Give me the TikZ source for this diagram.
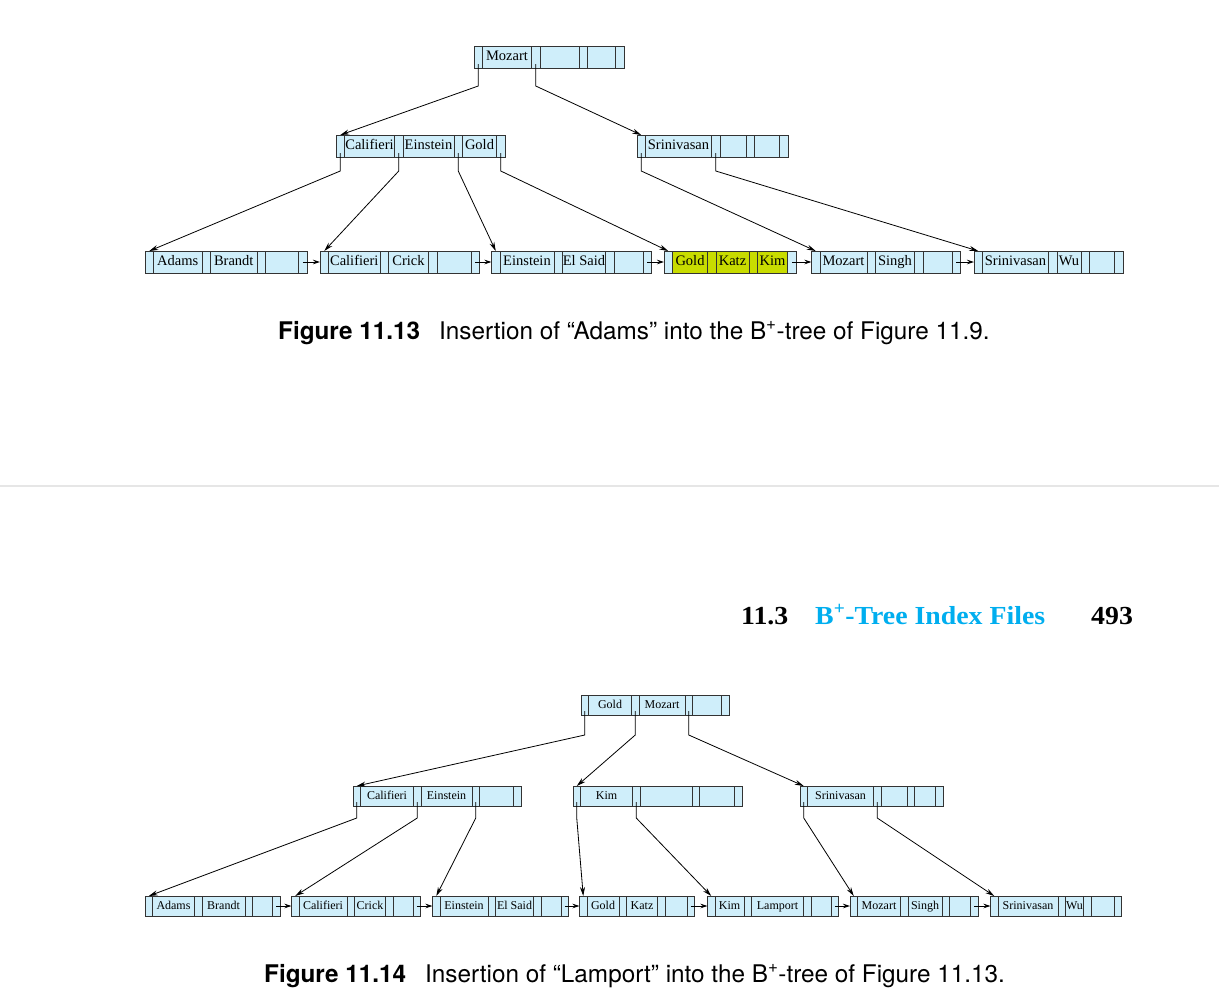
\documentclass[tikz,border=0pt]{standalone}
\usepackage{fontspec}
\setmainfont{Liberation Serif}
\newfontfamily\capfont{TeX Gyre Heros}
\newfontfamily\headfont[FakeStretch=1.07]{Liberation Serif}
\usetikzlibrary{positioning,arrows.meta}

\definecolor{cellblue}{HTML}{CFEEFA}
\definecolor{hlgreen}{HTML}{C8DC00}
\definecolor{headcyan}{HTML}{00AEEF}
\definecolor{rulegray}{HTML}{E6E6E6}

\tikzset{
  cell/.style={draw=black!80, fill=cellblue, line width=0.9pt, inner sep=0pt, outer sep=0pt,
    text height=0.66em, text depth=0.02em},
  ptr/.style={cell, minimum width=8.5},
  key/.style={cell},
  hl/.style={fill=hlgreen},
  down/.style={line width=0.8pt, -{Stealth[length=9pt,width=5pt]}},
  next/.style={line width=0.8pt, -{Stealth[length=7pt,width=4.5pt]}},
  caption/.style={anchor=base west, inner sep=0pt, font=\capfont\fontsize{24.3}{28}\selectfont},
  head/.style={anchor=base west, inner sep=0pt, font=\headfont\bfseries\fontsize{26}{30}\selectfont},
}

% one B+-tree node: name, top left corner, list of width/key
\newcommand{\bnode}[3]{%
  \node[ptr, anchor=north west] (#1p1) at (#2) {};
  \foreach \w/\k [count=\i] in {#3} {
    \pgfmathtruncatemacro\j{\i+1}
    \node[key, minimum width=\w, right=0pt of #1p\i] (#1k\i) {\k};
    \node[ptr, right=0pt of #1k\i] (#1p\j) {};
  }
}

\begin{document}
\begin{tikzpicture}[x=1pt, y=-1pt]
  \path[fill=white, use as bounding box] (0,0) rectangle (1219,997);

  % Figure 11.13
  \begin{scope}[cell/.append style={minimum height=22, font=\fontsize{14.5}{16}\selectfont}]
    \bnode{t0}{474,46}{49/Mozart, 39/, 28/}
    \bnode{t1}{336,135}{50/Califieri, 51/Einstein, 34/Gold}
    \bnode{t2}{637,135}{66/Srinivasan, 26/, 25/}
    \bnode{tl1}{145,251}{48.5/Adams, 46.5/Brandt, 33/}
    \bnode{tl2}{320,251}{51.5/Califieri, 40/Crick, 34/}
    \bnode{tl3}{491.5,251}{54/Einstein, 43/El Said, 29/}
    \node[ptr, anchor=north west] (tl4p1) at (664,251) {};
    \node[key, hl, minimum width=35, right=0pt of tl4p1] (tl4k1) {Gold};
    \node[ptr, hl, right=0pt of tl4k1] (tl4p2) {};
    \node[key, hl, minimum width=33, right=0pt of tl4p2] (tl4k2) {Katz};
    \node[ptr, hl, right=0pt of tl4k2] (tl4p3) {};
    \node[key, hl, minimum width=30, right=0pt of tl4p3] (tl4k3) {Kim};
    \node[ptr, right=0pt of tl4k3] (tl4p4) {};
    \bnode{tl5}{811.5,251}{47/Mozart, 39/Singh, 29/}
    \bnode{tl6}{974,251}{66/Srinivasan, 24/Wu, 25/}
  \end{scope}

  \foreach \a/\b in {t0p1/t1p1, t0p2/t2p1}
    \draw[down] ([yshift=4pt]\a.south) -- ([yshift=-18pt]\a.south) -- (\b.north);
  \foreach \a/\b in {t1p1/tl1p1, t1p2/tl2p1, t1p3/tl3p1, t1p4/tl4p1, t2p1/tl5p1, t2p2/tl6p1}
    \draw[down] ([yshift=4pt]\a.south) -- ([yshift=-14pt]\a.south) -- (\b.north);
  \foreach \a/\b in {tl1/tl2, tl2/tl3, tl3/tl4, tl4/tl5, tl5/tl6}
    \draw[next] (\a p4.center) -- (\b p1.west);

  \node[caption] (cap1) at (278,339)
    {\bfseries Figure 11.13\hspace{19pt}\mdseries Insertion of “Adams” into the B\textsuperscript{+}-tree of Figure 11.9.};

  \draw[rulegray, line width=1.2pt] (0,486) -- (1219,486);

  % running head
  \node[head] (secnum) at (741,624) {11.3};
  \node[head, text=headcyan] (sectitle) at (815,624) {B\textsuperscript{+}-Tree Index Files};
  \node[head] (pagenum) at (1091,624) {493};

  % Figure 11.14
  \begin{scope}[cell/.append style={minimum height=20, font=\fontsize{12}{14}\selectfont},
                ptr/.append style={minimum width=7.5}]
    \bnode{b0}{581,695}{43/Gold, 46/Mozart, 29/}
    \bnode{b1}{353,786}{53/Califieri, 51/Einstein, 34/}
    \bnode{b2}{573,786}{52/Kim, 52/, 35/}
    \bnode{b3}{800,786}{66/Srinivasan, 26/, 21/}
    \bnode{bl1}{145,896}{42/Adams, 43/Brandt, 20/}
    \bnode{bl2}{291.5,896}{48/Califieri, 31/Crick, 20/}
    \bnode{bl3}{432.5,896}{48/Einstein, 38/El Said, 20/}
    \bnode{bl4}{579.5,896}{32/Gold, 31/Katz, 22/}
    \bnode{bl5}{707.5,896}{29/Kim, 52/Lamport, 20/}
    \bnode{bl6}{850,896}{43/Mozart, 34/Singh, 21/}
    \bnode{bl7}{990.5,896}{60/Srinivasan, 18/Wu, 23/}
  \end{scope}

  \foreach \a/\b in {b0p1/b1p1, b0p2/b2p1, b0p3/b3p1}
    \draw[down] ([yshift=4pt]\a.south) -- ([yshift=-20pt]\a.south) -- (\b.north);
  \foreach \a/\b in {b1p1/bl1p1, b1p2/bl2p1, b1p3/bl3p1, b2p1/bl4p1, b2p2/bl5p1, b3p1/bl6p1, b3p2/bl7p1}
    \draw[down] ([yshift=4pt]\a.south) -- ([yshift=-12pt]\a.south) -- (\b.north);
  \foreach \a/\b in {bl1/bl2, bl2/bl3, bl3/bl4, bl4/bl5, bl5/bl6, bl6/bl7}
    \draw[next] (\a p4.center) -- (\b p1.west);

  \node[caption] (cap2) at (264,982)
    {\bfseries Figure 11.14\hspace{19pt}\mdseries Insertion of “Lamport” into the B\textsuperscript{+}-tree of Figure 11.13.};
\end{tikzpicture}
\end{document}
